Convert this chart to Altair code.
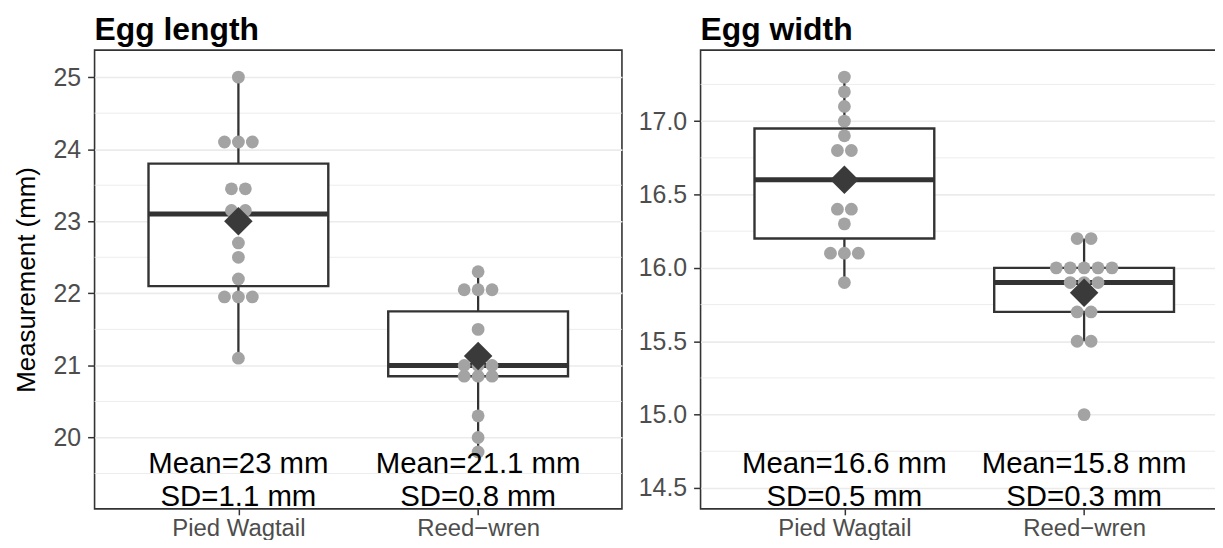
import altair as alt
import pandas as pd

FONT = "Liberation Sans"

species = ["Pied Wagtail", "Reed\u2212wren"]
species_idx = [1, 2]

# Dot positions (dot-density bins)
length_pied = [25.0, 24.1, 24.1, 24.1, 23.45, 23.45, 23.15, 23.15, 22.7, 22.5, 22.2, 21.95, 21.95, 21.95, 21.1]
length_reed = [22.3, 22.05, 22.05, 22.05, 21.5, 21.0, 21.0, 21.0, 20.85, 20.85, 20.85, 20.3, 20.0, 19.8]
width_pied = [17.3, 17.2, 17.1, 17.0, 16.9, 16.8, 16.8, 16.6, 16.4, 16.4, 16.3, 16.1, 16.1, 16.1, 15.9]
width_reed = [16.2, 16.2, 16.0, 16.0, 16.0, 16.0, 16.0, 15.9, 15.9, 15.9, 15.7, 15.7, 15.5, 15.5, 15.0]

# Box statistics per species (Pied Wagtail, Reed-wren)
length_lo = [21.1, 19.8]
length_q1 = [22.1, 20.85]
length_med = [23.1, 21.0]
length_q3 = [23.8, 21.75]
length_hi = [25.0, 22.3]
length_mean = [23.0, 21.13]
length_labels = ["Mean=23 mm\nSD=1.1 mm", "Mean=21.1 mm\nSD=0.8 mm"]

width_lo = [15.9, 15.5]
width_q1 = [16.2, 15.7]
width_med = [16.6, 15.9]
width_q3 = [16.95, 16.0]
width_hi = [17.3, 16.2]
width_mean = [16.6, 15.83]
width_labels = ["Mean=16.6 mm\nSD=0.5 mm", "Mean=15.8 mm\nSD=0.3 mm"]

# Axes
length_domain = [19.01, 25.375]
length_ticks = [20, 21, 22, 23, 24, 25]
length_minor = [19.5, 20.5, 21.5, 22.5, 23.5, 24.5]
width_domain = [14.358, 17.484]
width_ticks = [14.5, 15.0, 15.5, 16.0, 16.5, 17.0]
width_minor = [14.75, 15.25, 15.75, 16.25, 16.75, 17.25]

PANEL_W = 530
PANEL_H = 461
X_DOMAIN = [0.4, 2.6]
DOT_STEP = 14.0 / (PANEL_W / (X_DOMAIN[1] - X_DOMAIN[0]))  # dot spacing in x units
HALF_BOX = 0.375

DARK = "#333333"
GRID = "#EBEBEB"
DOT = "#A3A3A3"


def panel(title, pied, reed, lo, q1, med, q3, hi, mean, labels,
          domain, ticks, minor, fmt, ytitle):
    pts = pd.DataFrame({
        "idx": [1] * len(pied) + [2] * len(reed),
        "value": pied + reed,
    })
    stats = pd.DataFrame({
        "idx": species_idx, "lo": lo, "q1": q1, "med": med, "q3": q3,
        "hi": hi, "mean": mean, "label": labels,
        "ylab": [domain[0]] * 2,
    })
    minor_df = pd.DataFrame({"v": minor})

    xscale = alt.Scale(domain=X_DOMAIN, nice=False, zero=False)
    yscale = alt.Scale(domain=domain, nice=False, zero=False)
    label_expr = "[" + ",".join("'" + s + "'" for s in species) + "][datum.value - 1]"
    xaxis = alt.Axis(values=species_idx, labelExpr=label_expr, title=None, grid=False,
                     domain=False, ticks=True, tickColor=DARK, tickWidth=1.5, tickSize=6,
                     labelFontSize=24, labelColor="#4D4D4D", labelFont=FONT, labelPadding=2)
    yaxis = alt.Axis(values=ticks, format=fmt, title=ytitle, grid=True, gridColor=GRID,
                     gridWidth=1.6, domain=False, tickColor=DARK, tickWidth=1.5, tickSize=7,
                     labelFontSize=25, labelColor="#4D4D4D", labelFont=FONT, labelPadding=7,
                     titleFontSize=26, titleFontWeight="normal", titleColor="black",
                     titleFont=FONT, titlePadding=14)

    x_idx = alt.X("idx:Q", scale=xscale, axis=xaxis)

    minor_layer = alt.Chart(minor_df).mark_rule(color=GRID, strokeWidth=0.9).encode(
        y=alt.Y("v:Q", scale=yscale, axis=yaxis))

    base = alt.Chart(stats).transform_calculate(
        x1=f"datum.idx - {HALF_BOX}", x2=f"datum.idx + {HALF_BOX}")

    whisk = base.mark_rule(color=DARK, strokeWidth=2.3).encode(
        x=x_idx, y=alt.Y("lo:Q", scale=yscale), y2="hi:Q")
    box = base.mark_rect(fill="white", stroke=DARK, strokeWidth=2.4).encode(
        x=alt.X("x1:Q", scale=xscale), x2="x2:Q",
        y=alt.Y("q1:Q", scale=yscale), y2="q3:Q")
    median = base.mark_rule(color=DARK, strokeWidth=5).encode(
        x=alt.X("x1:Q", scale=xscale), x2="x2:Q", y=alt.Y("med:Q", scale=yscale))

    dots = alt.Chart(pts).transform_joinaggregate(
        n="count()", groupby=["idx", "value"]
    ).transform_window(
        r="row_number()", groupby=["idx", "value"]
    ).transform_calculate(
        xpos=f"datum.idx + (datum.r - (datum.n + 1) / 2) * {DOT_STEP}"
    ).mark_circle(size=165, color=DOT, opacity=1).encode(
        x=alt.X("xpos:Q", scale=xscale), y=alt.Y("value:Q", scale=yscale))

    means = base.mark_point(shape="diamond", filled=True, size=820, color="#3A3A3A",
                            opacity=1).encode(
        x=x_idx, y=alt.Y("mean:Q", scale=yscale))

    texts = base.mark_text(fontSize=29.5, font=FONT, color="black", lineBreak="\n",
                           lineHeight=33, baseline="bottom", align="center", dy=-30).encode(
        x=x_idx, y=alt.Y("ylab:Q", scale=yscale), text="label:N")

    return alt.layer(minor_layer, whisk, box, median, dots, means, texts).properties(
        width=PANEL_W, height=PANEL_H,
        title=alt.TitleParams(title, anchor="start", frame="group", fontSize=32,
                              fontWeight="bold", font=FONT, color="black", offset=3),
    )


left = panel("Egg length", length_pied, length_reed, length_lo, length_q1, length_med,
             length_q3, length_hi, length_mean, length_labels,
             length_domain, length_ticks, length_minor, "d", "Measurement (mm)")
right = panel("Egg width", width_pied, width_reed, width_lo, width_q1, width_med,
              width_q3, width_hi, width_mean, width_labels,
              width_domain, width_ticks, width_minor, ".1f", None)

chart = alt.hconcat(left, right, spacing=13).properties(
    padding={"left": 4, "top": 4, "right": -15, "bottom": -3},
    background="white",
).configure_view(stroke=DARK, strokeWidth=1.6)

chart.save("out.html", embed_options={"renderer": "svg", "actions": False})
